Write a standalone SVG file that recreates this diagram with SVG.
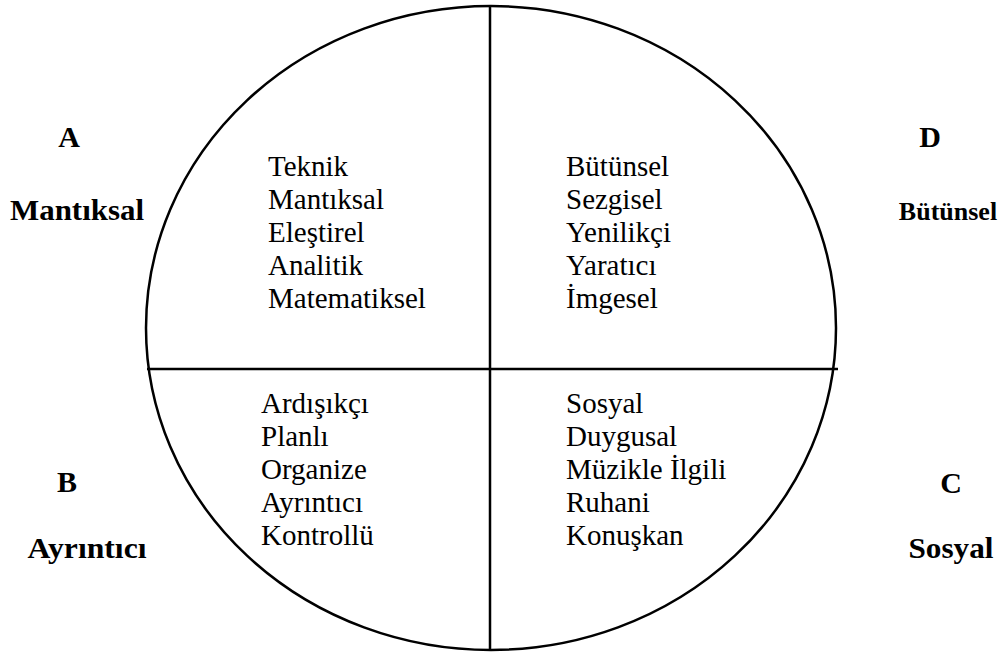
<svg xmlns="http://www.w3.org/2000/svg" width="1001" height="656" viewBox="0 0 1001 656">
<style>
.t{font-family:'Liberation Serif','Times New Roman',serif;font-size:29px;fill:#000}
.b{font-family:'Liberation Serif','Times New Roman',serif;font-size:30px;font-weight:bold;fill:#000;text-anchor:middle}
.ln{stroke:#000;stroke-width:2.5;fill:none}
</style>
<rect width="1001" height="656" fill="#fff"/>
<g id="circle">
<ellipse class="ln" cx="491" cy="328" rx="345" ry="322"/>
</g>
<g id="dividers">
<line class="ln" x1="490" y1="6" x2="490" y2="650"/>
<line class="ln" x1="147" y1="369" x2="838" y2="369"/>
</g>
<g id="quadrant-A">
<text class="t" x="268" y="176">Teknik</text>
<text class="t" x="268" y="209">Mantıksal</text>
<text class="t" x="268" y="242">Eleştirel</text>
<text class="t" x="268" y="275">Analitik</text>
<text class="t" x="268" y="308">Matematiksel</text>
</g>
<g id="quadrant-D">
<text class="t" x="566" y="176">Bütünsel</text>
<text class="t" x="566" y="209">Sezgisel</text>
<text class="t" x="566" y="242">Yenilikçi</text>
<text class="t" x="566" y="275">Yaratıcı</text>
<text class="t" x="566" y="308">İmgesel</text>
</g>
<g id="quadrant-B">
<text class="t" x="261" y="413">Ardışıkçı</text>
<text class="t" x="261" y="446">Planlı</text>
<text class="t" x="261" y="479">Organize</text>
<text class="t" x="261" y="512">Ayrıntıcı</text>
<text class="t" x="261" y="545">Kontrollü</text>
</g>
<g id="quadrant-C">
<text class="t" x="566" y="413">Sosyal</text>
<text class="t" x="566" y="446">Duygusal</text>
<text class="t" x="566" y="479">Müzikle İlgili</text>
<text class="t" x="566" y="512">Ruhani</text>
<text class="t" x="566" y="545">Konuşkan</text>
</g>
<g id="label-A">
<text class="b" x="69" y="147">A</text>
<text class="b" x="77" y="220" textLength="134" lengthAdjust="spacingAndGlyphs">Mantıksal</text>
</g>
<g id="label-D">
<text class="b" x="930" y="147">D</text>
<text class="b" x="948" y="220" style="font-size:26px">Bütünsel</text>
</g>
<g id="label-B">
<text class="b" x="67" y="492">B</text>
<text class="b" x="87" y="558" textLength="119" lengthAdjust="spacingAndGlyphs">Ayrıntıcı</text>
</g>
<g id="label-C">
<text class="b" x="951" y="493">C</text>
<text class="b" x="951" y="558" textLength="85" lengthAdjust="spacingAndGlyphs">Sosyal</text>
</g>
</svg>
